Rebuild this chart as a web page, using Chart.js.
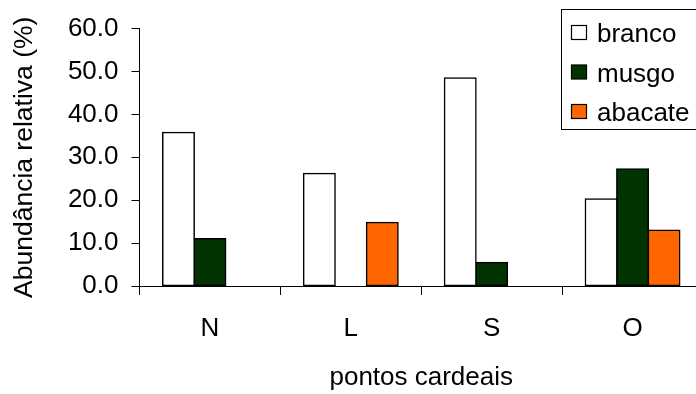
<!DOCTYPE html>
<html>
<head>
<meta charset="utf-8">
<script src="https://cdn.jsdelivr.net/npm/chart.js@4"></script>
<style>
  html, body { margin: 0; padding: 0; background: #fff; overflow: hidden; }
  #wrap { position: absolute; left: 0; top: 0; width: 703px; height: 394px; }
</style>
</head>
<body>
<div id="wrap"><canvas id="c"></canvas></div>
<script>
const categories = ['N', 'L', 'S', 'O'];
const seriesNames = ['branco', 'musgo', 'abacate'];
const branco = [35.8, 26.2, 48.5, 20.3];
const musgo = [11.0, null, 5.5, 27.3];
const abacate = [null, 14.8, null, 13.0];
const seriesColors = ['#FFFFFF', '#003300', '#FF6600'];
const yTicks = [0, 10, 20, 30, 40, 50, 60];
const xTitle = 'pontos cardeais';
const yTitle = 'Abundância relativa (%)';

const FONT = '"Liberation Sans", Arial, sans-serif';

const boxLegend = {
  id: 'boxLegend',
  afterDraw(chart) {
    const ctx = chart.ctx;
    ctx.save();
    const left = 561.5, top = 9.5, bottom = 129.5, right = 720;
    ctx.fillStyle = '#fff';
    ctx.fillRect(left, top, right - left, bottom - top);
    ctx.strokeStyle = '#000';
    ctx.lineWidth = 1;
    ctx.strokeRect(left, top, right - left, bottom - top);
    ctx.font = '26px ' + FONT;
    ctx.textBaseline = 'alphabetic';
    ctx.textAlign = 'left';
    chart.data.datasets.forEach((ds, i) => {
      const sy = 25 + i * 39.5;
      ctx.fillStyle = ds.backgroundColor;
      ctx.fillRect(571.5, sy + 0.5, 15, 14);
      ctx.strokeStyle = '#000';
      ctx.lineWidth = 1.2;
      ctx.strokeRect(571.5, sy + 0.5, 15, 14);
      ctx.fillStyle = '#000';
      ctx.fillText(ds.label, 597, sy + 17);
    });
    ctx.restore();
  }
};

const dataArrays = [branco, musgo, abacate];
new Chart(document.getElementById('c'), {
  type: 'bar',
  data: {
    labels: categories,
    datasets: seriesNames.map((n, i) => ({
      label: n,
      data: dataArrays[i],
      backgroundColor: seriesColors[i],
      borderColor: '#000',
      borderWidth: 1.5,
      borderSkipped: false,
      inflateAmount: 0.75,
      categoryPercentage: 0.67,
      barPercentage: 1.0
    }))
  },
  options: {
    responsive: true,
    maintainAspectRatio: false,
    animation: false,
    devicePixelRatio: 1,
    layout: { padding: { top: 27, left: 0, right: 0, bottom: 0 } },
    plugins: { legend: { display: false }, tooltip: { enabled: false } },
    scales: {
      x: {
        grid: { display: true, drawOnChartArea: false, drawTicks: true, tickLength: 9, color: '#000', offset: true },
        border: { display: true, color: '#000', width: 1, z: 1 },
        ticks: { color: '#000', font: { family: FONT, size: 26 }, padding: 18, maxRotation: 0 },
        title: { display: true, text: xTitle, color: '#000', font: { family: FONT, size: 26 }, padding: { top: 0, bottom: 1 } },
        afterFit(s) { s.height = 108; }
      },
      y: {
        min: 0, max: 60,
        afterBuildTicks(s) { s.ticks = yTicks.map(v => ({ value: v })); },
        grid: { display: true, drawOnChartArea: false, drawTicks: true, tickLength: 8, color: '#000' },
        border: { display: true, color: '#000', width: 1 },
        ticks: { color: '#000', font: { family: FONT, size: 26 }, padding: 13, callback: v => Number(v).toFixed(1) },
        title: { display: true, text: yTitle, color: '#000', font: { family: FONT, size: 26.5 }, padding: { top: 9, bottom: 0 } },
        afterFit(s) { s.width = 139.5; }
      }
    }
  },
  plugins: [boxLegend]
});
</script>
</body>
</html>
